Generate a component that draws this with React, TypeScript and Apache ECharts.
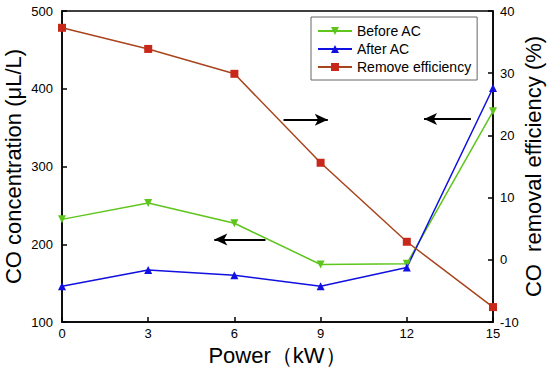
import React, { useEffect, useRef } from "react";
import * as echarts from "echarts";

const powers = ["0", "3", "6", "9", "12", "15"];
const powerValues = [0, 3, 6, 9, 12, 15];
const beforeAC = [232, 253, 227, 174, 175, 371];
const afterAC = [146, 167, 160, 146, 170, 401];
const removeEff = [37.3, 33.9, 29.9, 15.6, 2.9, -7.6];

const FONT = "'Liberation Sans', Arial, sans-serif";

export default function App() {
  const ref = useRef<HTMLDivElement>(null);
  useEffect(() => {
    if (!ref.current) return;
    const chart = echarts.init(ref.current, undefined, { renderer: "svg" });
    const pair = (vals: number[]) => powerValues.map((p, i) => [p, vals[i]]);
    const arrowLine = {
      silent: true,
      symbol: ["none", "arrow"],
      symbolSize: [9, 13],
      label: { show: false },
      lineStyle: { color: "#000", width: 2, type: "solid" },
    };
    chart.setOption({
      animation: false,
      textStyle: { fontFamily: FONT },
      grid: {
        left: 62,
        right: 57,
        top: 11,
        bottom: 46,
        outerBoundsMode: "none",
        containLabel: false,
        show: true,
        borderColor: "#000",
        borderWidth: 1.5,
      },
      legend: {
        orient: "vertical",
        left: 311,
        top: 17,
        padding: [7, 6, 6, 6],
        itemGap: 4,
        itemWidth: 34,
        itemHeight: 10,
        borderColor: "#666",
        borderWidth: 1,
        backgroundColor: "#fff",
        textStyle: { fontSize: 14, color: "#000", fontFamily: FONT },
        data: ["Before AC", "After AC", "Remove efficiency"],
      },
      xAxis: {
        type: "value",
        min: 0,
        max: 15,
        interval: 3,
        name: "Power（kW）",
        nameLocation: "middle",
        nameGap: 22,
        nameMoveOverlap: false,
        nameTextStyle: { fontSize: 22, color: "#000", fontFamily: FONT, verticalAlign: "top", lineHeight: 22 },
        axisLine: { onZero: false, lineStyle: { color: "#000", width: 1.5 } },
        axisTick: { inside: true, length: 5, lineStyle: { color: "#000", width: 1.5 } },
        axisLabel: { color: "#000", fontSize: 13, margin: 5, formatter: (v: number) => powers[powerValues.indexOf(v)] ?? String(v) },
        splitLine: { show: false },
      },
      yAxis: [
        {
          type: "value",
          min: 100,
          max: 500,
          interval: 100,
          name: "CO concentration (μL/L)",
          nameLocation: "middle",
          nameGap: 38,
          nameMoveOverlap: false,
          nameTextStyle: { fontSize: 22, color: "#000", fontFamily: FONT },
          axisLine: { show: true, onZero: false, lineStyle: { color: "#000", width: 1.5 } },
          axisTick: { show: true, inside: true, length: 5, lineStyle: { color: "#000", width: 1.5 } },
          axisLabel: { color: "#000", fontSize: 13, margin: 9 },
          splitLine: { show: false },
        },
        {
          type: "value",
          min: -10,
          max: 40,
          interval: 10,
          position: "right",
          name: "CO  removal efficiency (%)",
          nameLocation: "middle",
          nameGap: 29,
          nameMoveOverlap: false,
          nameRotate: 90,
          nameTextStyle: { fontSize: 22, color: "#000", fontFamily: FONT },
          axisLine: { show: true, onZero: false, lineStyle: { color: "#000", width: 1.5 } },
          axisTick: { show: true, inside: true, length: 5, lineStyle: { color: "#000", width: 1.5 } },
          axisLabel: { color: "#000", fontSize: 13, margin: 7 },
          splitLine: { show: false },
        },
      ],
      series: [
        {
          name: "Before AC",
          type: "line",
          yAxisIndex: 0,
          data: pair(beforeAC),
          symbol: "triangle",
          symbolRotate: 180,
          symbolSize: 8,
          itemStyle: { color: "#5ec51b" },
          lineStyle: { color: "#5ec51b", width: 1.5 },
          markLine: {
            ...arrowLine,
            data: [[{ coord: [7.08, 206] }, { coord: [5.3, 206] }]],
          },
        },
        {
          name: "After AC",
          type: "line",
          yAxisIndex: 0,
          data: pair(afterAC),
          symbol: "triangle",
          symbolSize: 8,
          itemStyle: { color: "#1010e0" },
          lineStyle: { color: "#1010e0", width: 1.5 },
          markLine: {
            ...arrowLine,
            data: [[{ coord: [14.23, 361] }, { coord: [12.6, 361] }]],
          },
        },
        {
          name: "Remove efficiency",
          type: "line",
          yAxisIndex: 1,
          data: pair(removeEff),
          symbol: "rect",
          symbolSize: 8,
          itemStyle: { color: "#c8281a" },
          lineStyle: { color: "#a8441c", width: 1.5 },
          markLine: {
            ...arrowLine,
            data: [[{ coord: [7.71, 22.5] }, { coord: [9.25, 22.5] }]],
          },
        },
      ],
    });
    return () => chart.dispose();
  }, []);
  return <div ref={ref} style={{ width: 550, height: 368, position: "absolute", left: 0, top: 0, background: "#fff" }} />;
}
